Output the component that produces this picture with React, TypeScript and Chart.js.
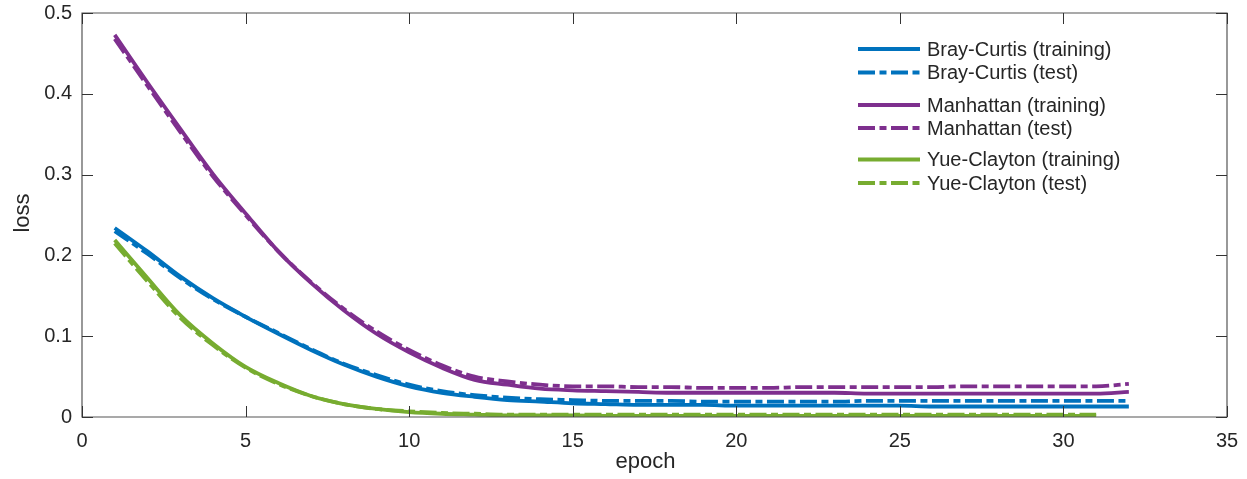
import React, { useEffect, useRef } from 'react';
import { Chart, registerables } from 'chart.js';

Chart.register(...registerables);

const epochs = [1, 2, 3, 4, 5, 6, 7, 8, 9, 10, 11, 12, 13, 14, 15, 16, 17, 18, 19, 20, 21, 22, 23, 24, 25, 26, 27, 28, 29, 30, 31, 32];

const brayTrain = [0.234, 0.205, 0.174, 0.147, 0.124, 0.103, 0.083, 0.065, 0.050, 0.038, 0.030, 0.025, 0.021, 0.019, 0.017, 0.016, 0.015, 0.015, 0.015, 0.014, 0.014, 0.014, 0.014, 0.014, 0.014, 0.013, 0.013, 0.013, 0.013, 0.013, 0.013, 0.013];
const brayTest = [0.230, 0.202, 0.172, 0.146, 0.124, 0.104, 0.084, 0.066, 0.052, 0.040, 0.032, 0.027, 0.024, 0.022, 0.021, 0.020, 0.020, 0.020, 0.019, 0.019, 0.019, 0.019, 0.019, 0.020, 0.020, 0.020, 0.020, 0.020, 0.020, 0.020, 0.020, 0.020];

const manhTrain = [0.473, 0.414, 0.357, 0.301, 0.252, 0.205, 0.166, 0.132, 0.103, 0.080, 0.061, 0.046, 0.040, 0.035, 0.033, 0.032, 0.031, 0.030, 0.030, 0.030, 0.030, 0.030, 0.030, 0.029, 0.029, 0.029, 0.029, 0.029, 0.029, 0.029, 0.029, 0.031];
const manhTest = [0.468, 0.410, 0.353, 0.298, 0.250, 0.205, 0.167, 0.134, 0.106, 0.083, 0.064, 0.050, 0.044, 0.040, 0.038, 0.038, 0.037, 0.037, 0.036, 0.036, 0.036, 0.037, 0.037, 0.037, 0.037, 0.037, 0.038, 0.038, 0.038, 0.038, 0.038, 0.041];

const yueTrain = [0.219, 0.172, 0.126, 0.091, 0.062, 0.042, 0.026, 0.016, 0.010, 0.006, 0.004, 0.003, 0.002, 0.002, 0.002, 0.0015, 0.0015, 0.0015, 0.0015, 0.0015, 0.0015, 0.0015, 0.0015, 0.0015, 0.0015, 0.0015, 0.0015, 0.0015, 0.0015, 0.0015, 0.0015];
const yueTest = [0.215, 0.168, 0.123, 0.089, 0.061, 0.041, 0.026, 0.016, 0.010, 0.007, 0.005, 0.004, 0.003, 0.003, 0.003, 0.003, 0.003, 0.003, 0.003, 0.003, 0.003, 0.003, 0.003, 0.003, 0.003, 0.003, 0.003, 0.003, 0.003, 0.003, 0.003];

const seriesLabels = [
  'Bray-Curtis (training)',
  'Bray-Curtis (test)',
  'Manhattan (training)',
  'Manhattan (test)',
  'Yue-Clayton (training)',
  'Yue-Clayton (test)',
];

const xTickValues = [0, 5, 10, 15, 20, 25, 30, 35];
const xTickLabels = ['0', '5', '10', '15', '20', '25', '30', '35'];
const yTickValues = [0, 0.1, 0.2, 0.3, 0.4, 0.5];
const yTickLabels = ['0', '0.1', '0.2', '0.3', '0.4', '0.5'];

const xTitle = 'epoch';
const yTitle = 'loss';

const BLUE = '#0072BD';
const PURPLE = '#7E2F8E';
const GREEN = '#77AC30';
const DASH = [17, 4.5, 7, 4.5];
const FONT = '"Liberation Sans", Arial, Helvetica, sans-serif';
const TEXT = '#262626';

const toPts = (vals: number[]) => vals.map((v, i) => ({ x: epochs[i], y: v }));

const boxPlugin = {
  id: 'matlabBox',
  afterDatasetsDraw(chart: any) {
    const { ctx, chartArea, scales } = chart;
    const { left, right, top, bottom } = chartArea;
    const tl = 11;
    ctx.save();
    ctx.strokeStyle = '#555555';
    ctx.lineWidth = 1.2;
    ctx.beginPath();
    ctx.rect(left, top, right - left, bottom - top);
    ctx.stroke();
    ctx.strokeStyle = '#333333';
    ctx.lineWidth = 1;
    ctx.beginPath();
    xTickValues.forEach((v) => {
      const x = Math.round(scales.x.getPixelForValue(v)) + 0.5;
      ctx.moveTo(x, bottom);
      ctx.lineTo(x, bottom - tl);
      ctx.moveTo(x, top);
      ctx.lineTo(x, top + tl);
    });
    yTickValues.forEach((v) => {
      const y = Math.round(scales.y.getPixelForValue(v)) + 0.5;
      ctx.moveTo(left, y);
      ctx.lineTo(left + tl, y);
      ctx.moveTo(right, y);
      ctx.lineTo(right - tl, y);
    });
    ctx.stroke();
    ctx.restore();
  },
  afterDraw(chart: any) {
    const { ctx } = chart;
    ctx.save();
    ctx.fillStyle = TEXT;
    ctx.font = `22px ${FONT}`;
    ctx.textAlign = 'center';
    ctx.textBaseline = 'alphabetic';
    ctx.fillText(xTitle, 645.5, 468);
    ctx.save();
    ctx.translate(28.5, 213);
    ctx.rotate(-Math.PI / 2);
    ctx.fillText(yTitle, 0, 0);
    ctx.restore();

    const rows = [49, 72.5, 105, 128, 159.5, 183];
    const colors = [BLUE, BLUE, PURPLE, PURPLE, GREEN, GREEN];
    ctx.font = `20px ${FONT}`;
    ctx.textAlign = 'left';
    ctx.textBaseline = 'middle';
    rows.forEach((y, i) => {
      ctx.strokeStyle = colors[i];
      ctx.lineWidth = 3.8;
      ctx.setLineDash(i % 2 === 1 ? DASH : []);
      ctx.beginPath();
      ctx.moveTo(858, y);
      ctx.lineTo(920, y);
      ctx.stroke();
      ctx.setLineDash([]);
      ctx.fillStyle = TEXT;
      ctx.fillText(seriesLabels[i], 927, y + 1);
    });
    ctx.restore();
  },
};

export default function App() {
  const canvasRef = useRef<HTMLCanvasElement | null>(null);

  useEffect(() => {
    if (!canvasRef.current) return;
    const mk = (label: string, vals: number[], color: string, dashed: boolean, order: number) => ({
      label,
      data: toPts(vals),
      borderColor: color,
      backgroundColor: color,
      borderWidth: 3.8,
      borderDash: dashed ? DASH : [],
      pointRadius: 0,
      tension: 0.25,
      cubicInterpolationMode: 'monotone' as const,
      fill: false,
      order,
    });
    const chart = new Chart(canvasRef.current, {
      type: 'line',
      data: {
        datasets: [
          mk(seriesLabels[0], brayTrain, BLUE, false, 6),
          mk(seriesLabels[1], brayTest, BLUE, true, 5),
          mk(seriesLabels[2], manhTrain, PURPLE, false, 4),
          mk(seriesLabels[3], manhTest, PURPLE, true, 3),
          mk(seriesLabels[4], yueTrain, GREEN, false, 2),
          mk(seriesLabels[5], yueTest, GREEN, true, 1),
        ],
      },
      options: {
        animation: false,
        responsive: true,
        maintainAspectRatio: false,
        layout: { padding: { top: 13, right: 20, left: 0, bottom: 0 } },
        plugins: { legend: { display: false }, tooltip: { enabled: false } },
        scales: {
          x: {
            type: 'linear',
            min: 0,
            max: 35,
            grid: { display: false, drawTicks: false },
            border: { display: false },
            afterBuildTicks: (scale: any) => {
              scale.ticks = xTickValues.map((v) => ({ value: v }));
            },
            afterFit: (scale: any) => {
              scale.height = 62;
              scale.paddingLeft = 0;
              scale.paddingRight = 0;
            },
            ticks: {
              padding: 12,
              color: TEXT,
              font: { family: FONT, size: 20 },
              maxRotation: 0,
              callback: (v: any) => {
                const i = xTickValues.indexOf(Number(v));
                return i >= 0 ? xTickLabels[i] : '';
              },
            },
          },
          y: {
            type: 'linear',
            min: 0,
            max: 0.5,
            grid: { display: false, drawTicks: false },
            border: { display: false },
            afterBuildTicks: (scale: any) => {
              scale.ticks = yTickValues.map((v) => ({ value: v }));
            },
            afterFit: (scale: any) => {
              scale.width = 82;
              scale.paddingTop = 0;
              scale.paddingBottom = 0;
            },
            ticks: {
              padding: 10,
              color: TEXT,
              font: { family: FONT, size: 20 },
              callback: (v: any) => {
                const i = yTickValues.findIndex((t) => Math.abs(t - Number(v)) < 1e-9);
                return i >= 0 ? yTickLabels[i] : '';
              },
            },
          },
        },
      },
      plugins: [boxPlugin],
    });
    return () => chart.destroy();
  }, []);

  return (
    <div style={{ position: 'fixed', left: 0, top: 0, width: 1247, height: 479, background: '#ffffff' }}>
      <canvas ref={canvasRef} />
    </div>
  );
}
